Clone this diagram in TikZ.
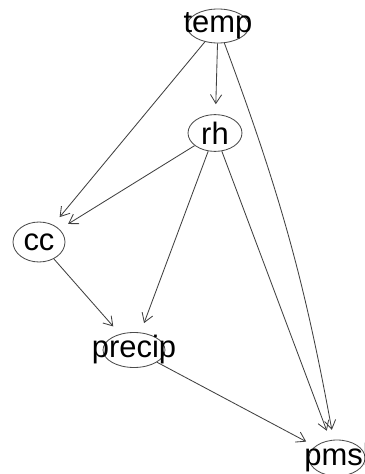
\documentclass[tikz,border=0pt]{standalone}
\usepackage{fontspec}
\setmainfont{Liberation Sans}
\usetikzlibrary{arrows.meta,shapes.geometric}

\begin{document}
\begin{tikzpicture}[
        >={Straight Barb[length=2.2mm,width=2.8mm]},
        font=\fontsize{22}{26}\selectfont,
        var/.style={ellipse, draw=gray!60!black, line width=0.6pt, inner sep=0pt},
        dep/.style={->, draw=black!75, line width=0.6pt, shorten >=2.5mm}
        ]
            \useasboundingbox (0, 0) rectangle (9.125, 11.85);

            % Variables
            \node[var, minimum width=1.55cm, minimum height=0.85cm, label=center:temp] (temp) at (5.45, 11.2) {};
            \node[var, minimum width=1.35cm, minimum height=0.92cm, label=center:rh] (rh) at (5.375, 8.525) {};
            \node[var, minimum width=1.3cm, minimum height=1cm, label=center:cc] (cc) at (0.975, 5.8) {};
            \node[var, minimum width=1.55cm, minimum height=0.875cm, label=center:precip] (precip) at (3.35, 3.1) {};
            \node[var, minimum width=1.4cm, minimum height=0.9cm, label=center:pmsl] (pmsl) at (8.425, 0.4) {};

            % Arcs
            \draw[dep] (temp) -- (rh);
            \draw[dep] (temp) -- (cc);
            \draw[dep] (temp) to[bend left=5] (pmsl);
            \draw[dep] (rh) -- (cc);
            \draw[dep] (rh) -- (precip);
            \draw[dep] (rh) -- (pmsl);
            \draw[dep] (cc) -- (precip);
            \draw[dep] (precip) -- (pmsl);
\end{tikzpicture}
\end{document}
